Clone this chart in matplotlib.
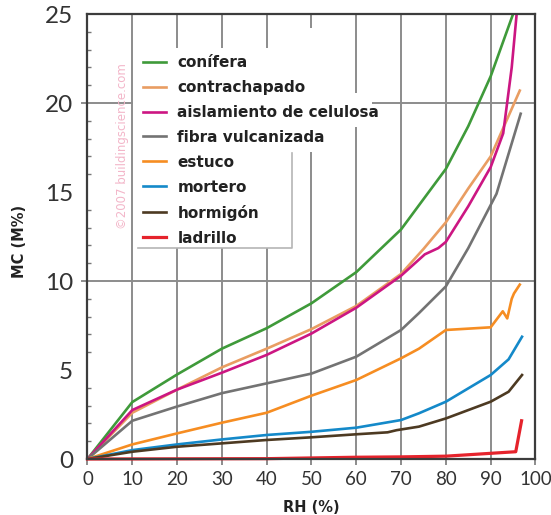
import matplotlib
matplotlib.use("Agg")
import matplotlib.pyplot as plt
from matplotlib.patches import Rectangle
from matplotlib.lines import Line2D

# datos (RH %, MC %)
rh_conifera = [0, 10, 20, 30, 40, 50, 60, 70, 80, 85, 90, 95]
mc_conifera = [0, 3.2, 4.75, 6.2, 7.35, 8.75, 10.5, 12.9, 16.3, 18.7, 21.5, 25.0]

rh_contrachapado = [0, 10, 20, 30, 40, 50, 60, 70, 75, 80, 85, 90, 96.5]
mc_contrachapado = [0, 2.6, 3.9, 5.15, 6.2, 7.3, 8.6, 10.4, 11.8, 13.3, 15.2, 17.0, 20.7]

rh_aislamiento = [0, 10, 20, 30, 40, 50, 60, 70, 75.3, 78.3, 80, 85, 90, 92.8, 94.7, 95.8]
mc_aislamiento = [0, 2.75, 3.9, 4.85, 5.85, 7.05, 8.5, 10.3, 11.5, 11.85, 12.2, 14.2, 16.4, 18.3, 22.0, 25.0]

rh_fibra = [0, 10, 20, 30, 40, 50, 60, 70, 74, 80, 85, 91.3, 96.7]
mc_fibra = [0, 2.15, 2.95, 3.7, 4.25, 4.8, 5.75, 7.25, 8.2, 9.7, 11.85, 14.9, 19.4]

rh_estuco = [0, 10, 20, 30, 40, 50, 60, 70, 74, 80, 90, 92.7, 93.7, 94.7, 95.2, 96.5]
mc_estuco = [0, 0.82, 1.44, 2.04, 2.6, 3.56, 4.44, 5.66, 6.2, 7.25, 7.4, 8.3, 7.9, 9.0, 9.3, 9.8]

rh_mortero = [0, 10, 20, 30, 40, 50, 60, 70, 74, 80, 90, 94, 97]
mc_mortero = [0, 0.5, 0.82, 1.1, 1.35, 1.53, 1.76, 2.19, 2.57, 3.22, 4.72, 5.6, 6.87]

rh_hormigon = [0, 10, 20, 30, 40, 50, 60, 67, 69, 74, 80, 90, 94, 97]
mc_hormigon = [0, 0.41, 0.69, 0.88, 1.07, 1.22, 1.39, 1.5, 1.62, 1.82, 2.28, 3.22, 3.78, 4.72]

rh_ladrillo = [0, 40, 60, 70, 80, 90, 95.6, 96.9]
mc_ladrillo = [0, 0.02, 0.1, 0.12, 0.16, 0.32, 0.41, 2.15]

series = [
    ("conífera", rh_conifera, mc_conifera, "#3f9a3a"),
    ("contrachapado", rh_contrachapado, mc_contrachapado, "#e99d62"),
    ("aislamiento de celulosa", rh_aislamiento, mc_aislamiento, "#cc1682"),
    ("fibra vulcanizada", rh_fibra, mc_fibra, "#737373"),
    ("estuco", rh_estuco, mc_estuco, "#f68d22"),
    ("mortero", rh_mortero, mc_mortero, "#1489c9"),
    ("hormigón", rh_hormigon, mc_hormigon, "#4d3a22"),
    ("ladrillo", rh_ladrillo, mc_ladrillo, "#e5232c"),
]

x_ticks = [0, 10, 20, 30, 40, 50, 60, 70, 80, 90, 100]
y_ticks = [0, 5, 10, 15, 20, 25]

fig = plt.figure(figsize=(5.51, 5.15), dpi=100)
ax = fig.add_axes([0.1588, 0.1087, 0.813, 0.864])
ax.set_xlim(0, 100)
ax.set_ylim(0, 25)

grid_col = "#8c8c8c"
for x in x_ticks[1:-1]:
    ax.axvline(x, color=grid_col, lw=1.4, zorder=1)
for y in [10, 20]:
    ax.axhline(y, xmin=-0.012, xmax=1, color=grid_col, lw=1.4, zorder=1, clip_on=False)

# zona blanca detras de la leyenda
for (x0, y0, w, h) in [(0.1016, 0.474, 0.355, 0.45), (0.4565, 0.69, 0.108, 0.278), (0.564, 0.746, 0.07, 0.077)]:
    ax.add_patch(Rectangle((x0, y0), w, h, transform=ax.transAxes, facecolor="white",
                           edgecolor="none", zorder=2))
ax.add_line(Line2D([0.1127, 0.4565, 0.4565], [0.474, 0.474, 0.6876], transform=ax.transAxes,
                   color="#b5b5b5", lw=1.2, zorder=2))

for i, (name, xs, ys, col) in enumerate(series):
    lw = 2.3 if name == "ladrillo" else 1.9
    ax.plot(xs, ys, color=col, lw=lw, label=name, zorder=3 + i * 0.1,
            clip_on=(name != "ladrillo"))

ax.text(0.079, 0.703, "©2007 buildingscience.com", transform=ax.transAxes, rotation=90,
        ha="center", va="center", fontsize=8.5, color="#f3b6c9", zorder=2.5)

leg = ax.legend(loc="upper left", bbox_to_anchor=(0.124, 0.908), borderaxespad=0, borderpad=0,
                frameon=False, handlelength=1.5, handletextpad=0.75, labelspacing=0.65,
                prop={"weight": "bold", "size": 11})
for t in leg.get_texts():
    t.set_color("#222222")
leg.set_zorder(6)

for s in ax.spines.values():
    s.set_color("#3c3c3c")
    s.set_linewidth(1.6)
    s.set_zorder(5)

ax.set_xticks(x_ticks)
ax.set_yticks(y_ticks)
ax.set_yticks(range(0, 26), minor=True)
ax.tick_params(axis="x", which="major", length=4, width=1.4, color=grid_col, pad=4.5,
               labelsize=13.5, labelcolor="#333333")
ax.tick_params(axis="y", which="major", length=0, pad=10.5, labelsize=17.5, labelcolor="#333333")
ax.tick_params(axis="y", which="minor", direction="in", length=3, width=1, color="#777777")
for lab in ax.get_xticklabels() + ax.get_yticklabels():
    lab.set_fontfamily("Lato")
    lab.set_fontweight("normal")

ax.set_xlabel("RH (%)", fontsize=10.5, fontweight="bold", color="#222222")
ax.set_ylabel("MC (M%)", fontsize=10.5, fontweight="bold", color="#222222")
ax.xaxis.set_label_coords(0.5, -0.108)
ax.xaxis.label.set_va("center")
ax.yaxis.set_label_coords(-0.151, 0.49)
ax.yaxis.label.set_va("center")

fig.savefig("out.png", dpi=100, facecolor="white")
